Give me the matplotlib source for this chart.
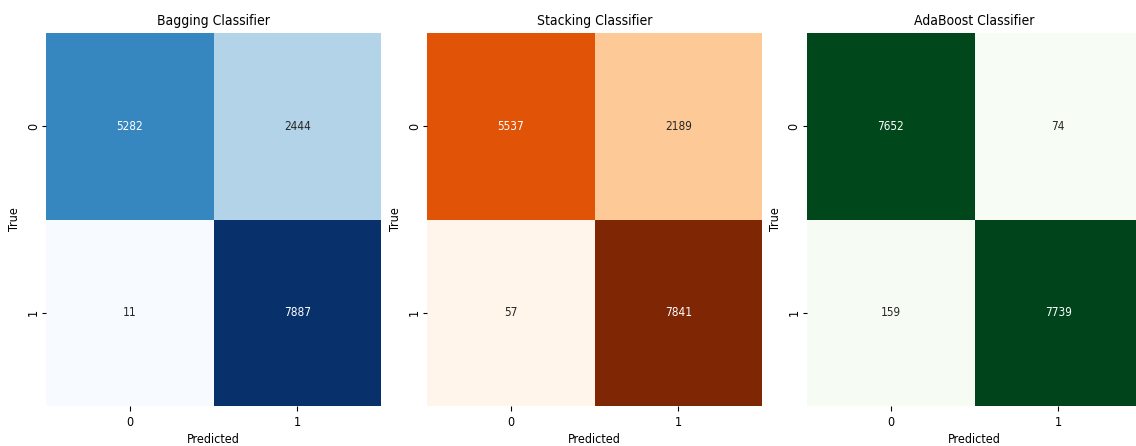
import numpy as np
import matplotlib
matplotlib.use('Agg')
import matplotlib.pyplot as plt
import seaborn as sns

# confusion matrices
titles = ['Bagging Classifier', 'Stacking Classifier', 'AdaBoost Classifier']
cmaps = ['Blues', 'Oranges', 'Greens']
bagging_cm = [[5282, 2444], [11, 7887]]
stacking_cm = [[5537, 2189], [57, 7841]]
adaboost_cm = [[7652, 74], [159, 7739]]
class_labels = ['0', '1']

matrices = [bagging_cm, stacking_cm, adaboost_cm]

plt.rcParams['font.stretch'] = 'condensed'

W, H = 1136, 446
fig = plt.figure(figsize=(W / 100, H / 100), dpi=100)

lefts = [46, 427, 807]
ax_w, ax_b, ax_t = 335, 406, 33

for i in range(3):
    ax = fig.add_axes([lefts[i] / W, (H - ax_b) / H, ax_w / W, (ax_b - ax_t) / H])
    sns.heatmap(np.array(matrices[i]), annot=True, fmt='d', cmap=cmaps[i], cbar=False,
                xticklabels=class_labels, yticklabels=class_labels, ax=ax,
                annot_kws={'fontsize': 8.5})
    ax.set_title(titles[i], fontsize=10)
    ax.set_xlabel('Predicted', fontsize=9, labelpad=3)
    ax.set_ylabel('True', fontsize=9, labelpad=4)
    ax.tick_params(labelsize=9)
    ax.tick_params(axis='y', pad=1.5, length=3)

fig.savefig('out.png', dpi=100)
